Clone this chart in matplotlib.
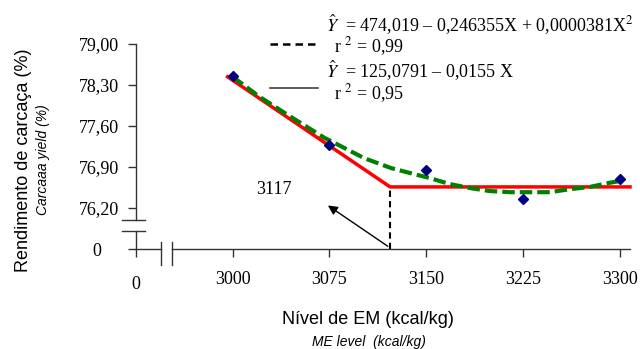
import matplotlib
matplotlib.use("Agg")
import matplotlib.pyplot as plt
from matplotlib.transforms import ScaledTranslation

# observed means (blue diamonds)
nivel = [3000, 3075, 3150, 3225, 3300]
rendimento = [78.45, 77.28, 76.85, 76.35, 76.70]

# quadratic fit curve (green dashed)
quad_x = [3000, 3020, 3044, 3071, 3102, 3123, 3137, 3153, 3168, 3184,
          3199, 3215, 3230, 3246, 3261, 3277, 3292, 3300]
quad_y = [78.44, 78.11, 77.77, 77.40, 77.05, 76.88, 76.80, 76.71, 76.61,
          76.54, 76.49, 76.47, 76.47, 76.47, 76.52, 76.56, 76.63, 76.66]

# linear plateau (red)
plateau_x = [2996, 3122, 3308]
plateau_y = [78.44, 76.56, 76.56]
break_label = "3117"

x_ticks = [2925, 3000, 3075, 3150, 3225, 3300]
x_labels = ["0", "3000", "3075", "3150", "3225", "3300"]
y_ticks = [75.5, 76.2, 76.9, 77.6, 78.3, 79.0]
y_labels = ["0", "76,20", "76,90", "77,60", "78,30", "79,00"]

plt.rcParams["mathtext.fontset"] = "stix"
serif = "Liberation Serif"
sans = "Liberation Sans"

W, H = 640, 349
fig = plt.figure(figsize=(6.4, 3.49), dpi=100)
ax = fig.add_axes([136 / W, 1 - 249 / H, 494 / W, 205 / H])
ax.set_xlim(2925, 3308)
ax.set_ylim(75.5, 79.0)

ax.plot(quad_x, quad_y, color="#008000", lw=3, ls=(0, (3, 1.2)), zorder=3)
ax.plot(plateau_x, plateau_y, color="red", lw=2.5, zorder=2, clip_on=False)
ax.plot(nivel, rendimento, ls="none", marker="D", ms=5, color="#000080",
        zorder=4)

# breakpoint marker
ax.plot([plateau_x[1], plateau_x[1]], [ax.get_ylim()[0], plateau_y[1]],
        color="black", lw=1.5, ls=(0, (3, 2)), zorder=1)
ax.annotate("", xy=(3072, 76.27), xytext=(plateau_x[1], 75.52),
            arrowprops=dict(arrowstyle="-|>", color="black", lw=1,
                            mutation_scale=14))
ax.text(3032, 76.52, break_label, fontsize=13, family=serif,
        ha="center", va="center")

# axes styling
for s in ["top", "right", "left", "bottom"]:
    ax.spines[s].set_visible(False)
ax.set_xticks(x_ticks)
ax.set_xticklabels(x_labels, family=serif, fontsize=13)
ax.set_yticks(y_ticks)
ax.set_yticklabels(y_labels, family=serif, fontsize=13)
ax.tick_params(axis="x", direction="out", length=6, width=1,
               color="#333333", pad=9.5)
ax.tick_params(axis="y", direction="out", length=6, width=1,
               color="#333333", pad=6)

# the two "0" labels sit a bit apart from the others
xl0 = ax.get_xticklabels()[0]
xl0.set_transform(xl0.get_transform()
                  + ScaledTranslation(0, -5 / 100, fig.dpi_scale_trans))
yl0 = ax.get_yticklabels()[0]
yl0.set_transform(yl0.get_transform()
                  + ScaledTranslation(-18 / 100, 0, fig.dpi_scale_trans))

# hand-drawn axis lines with breaks
axc = dict(color="#333333", lw=1, transform=ax.transAxes, clip_on=False)
yb1, yb2 = 1 - (220 - 44) / 205, 1 - (231 - 44) / 205
ax.plot([0, 0], [1, yb1], **axc)
ax.plot([0, 0], [yb2, 0], **axc)
ax.plot([-14 / 494, 9 / 494], [yb1, yb1], **axc)
ax.plot([-14 / 494, 9 / 494], [yb2, yb2], **axc)
xb1, xb2 = (161 - 136) / 494, (172 - 136) / 494
ax.plot([0, xb1], [0, 0], **axc)
ax.plot([xb2, 1], [0, 0], **axc)
ax.plot([xb1, xb1], [7 / 205, -16 / 205], **axc)
ax.plot([xb2, xb2], [7 / 205, -16 / 205], **axc)

# legend (equations)
fig.add_artist(plt.Line2D([270 / W, 318 / W], [1 - 44 / H, 1 - 44 / H],
                          color="black", lw=1.8, ls=(0, (3, 2))))
fig.add_artist(plt.Line2D([270 / W, 318 / W], [1 - 88 / H, 1 - 88 / H],
                          color="#404040", lw=1.2))
fig.text(326 / W, 1 - 25 / H,
         r"$\hat{Y}$  = 474,019 – 0,246355X + 0,0000381X$^2$",
         family=serif, fontsize=13, va="center")
fig.text(334 / W, 1 - 47 / H, r"r $^2$ = 0,99",
         family=serif, fontsize=13, va="center")
fig.text(326 / W, 1 - 71 / H, r"$\hat{Y}$  = 125,0791 – 0,0155 X",
         family=serif, fontsize=13, va="center")
fig.text(334 / W, 1 - 94 / H, r"r $^2$ = 0,95",
         family=serif, fontsize=13, va="center")

# axis titles
fig.text(24 / W, 1 - 160 / H, "Rendimento de carcaça (%)", family=sans,
         fontsize=13, rotation=90, ha="center", va="center")
fig.text(43 / W, 1 - 160 / H, "Carcaaa yield (%)", family=sans,
         style="italic", fontsize=10, rotation=90, ha="center", va="center")
fig.text(368 / W, 1 - 320 / H, "Nível de EM (kcal/kg)", family=sans,
         fontsize=13, ha="center", va="center")
fig.text(369 / W, 1 - 342 / H, "ME level  (kcal/kg)", family=sans,
         style="italic", fontsize=10, ha="center", va="center")

fig.savefig("out.png", dpi=100)
